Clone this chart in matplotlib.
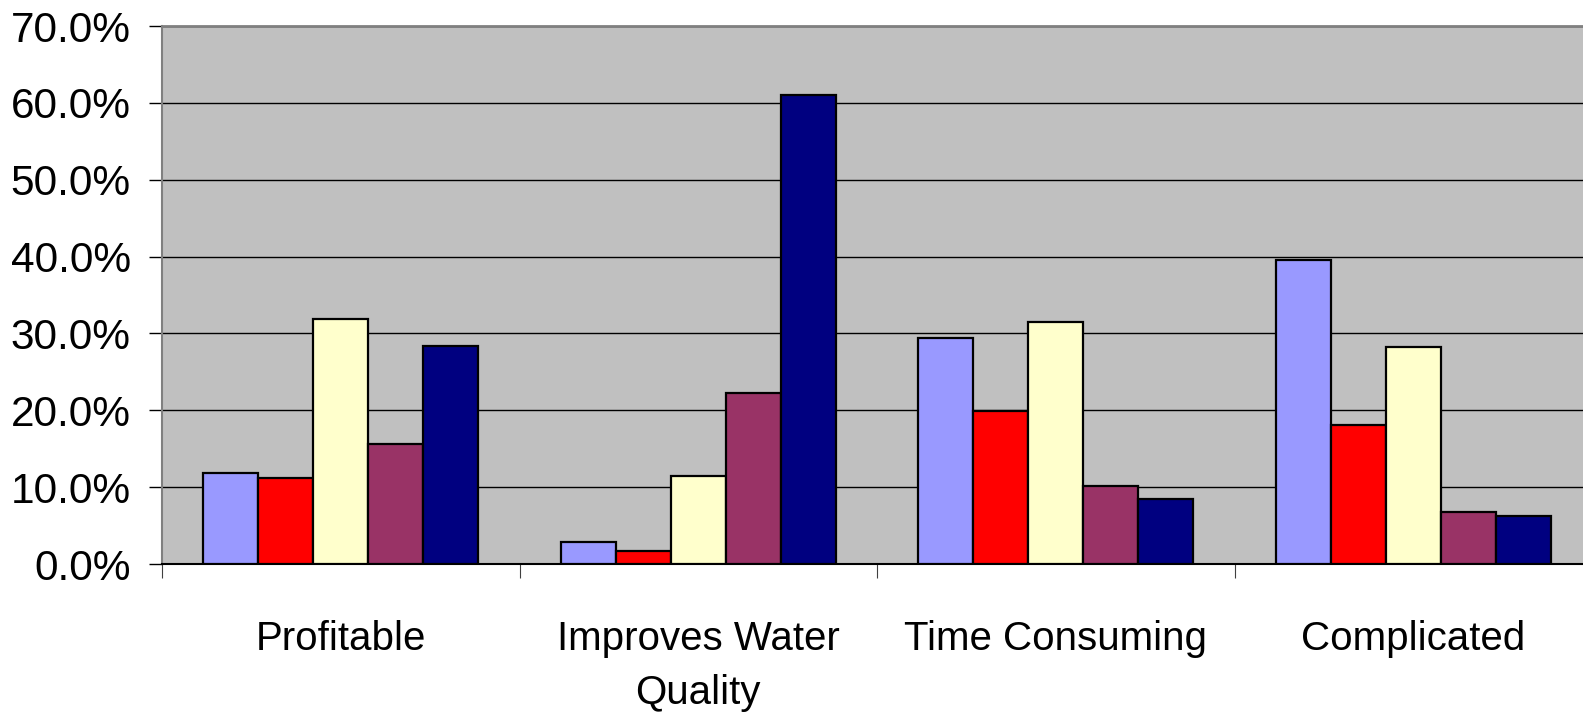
import matplotlib
matplotlib.use("Agg")
import matplotlib.pyplot as plt
from matplotlib import font_manager
from matplotlib.transforms import ScaledTranslation
import numpy as np

categories = ["Profitable", "Improves Water\nQuality", "Time Consuming", "Complicated"]
series_colors = ["#9999FF", "#FF0000", "#FFFFCC", "#993366", "#000080"]
s1 = [11.9, 2.8, 29.4, 39.5]
s2 = [11.2, 1.7, 19.9, 18.1]
s3 = [31.9, 11.5, 31.5, 28.2]
s4 = [15.6, 22.2, 10.1, 6.8]
s5 = [28.3, 61.0, 8.4, 6.2]
series = [s1, s2, s3, s4, s5]
yticks = [0, 10, 20, 30, 40, 50, 60, 70]
ytick_labels = ["0.0%", "10.0%", "20.0%", "30.0%", "40.0%", "50.0%", "60.0%", "70.0%"]

names = {f.name for f in font_manager.fontManager.ttflist}
if "Liberation Sans Narrow" in names:
    cat_font, cat_size, cat_ls = "Liberation Sans Narrow", 33, 1.3
else:
    cat_font, cat_size, cat_ls = "Liberation Sans", 29, 1.55

fig = plt.figure(figsize=(15.83, 7.24), dpi=100)
ax = fig.add_axes([162 / 1583, 160 / 724, 1430 / 1583, 538 / 724])
ax.set_facecolor("#C0C0C0")

n = len(series)
bw = 0.77 / n
x = np.arange(len(categories))
for i, (vals, col) in enumerate(zip(series, series_colors)):
    ax.bar(x - 0.385 + bw * (i + 0.5), vals, width=bw, color=col,
           edgecolor="black", linewidth=1.6, zorder=3)

ax.set_xlim(-0.5, 3.5)
ax.set_ylim(0, 70)
ax.set_yticks(yticks)
ax.set_yticklabels(ytick_labels, fontfamily="Liberation Sans", fontsize=30.5)
shift = ScaledTranslation(0, -4 / 100, fig.dpi_scale_trans)
for lbl in ax.get_yticklabels():
    lbl.set_transform(lbl.get_transform() + shift)
ax.yaxis.grid(True, color="black", linewidth=1.0, zorder=1)
ax.set_axisbelow(True)
ax.tick_params(axis="y", direction="out", length=9.5, width=1, color="black", pad=13)

ax.set_xticks(np.arange(-0.5, 3.6, 1.0))
ax.set_xticklabels([])
ax.tick_params(axis="x", which="major", direction="out", length=10, width=0.8, color="#404040")
ax.set_xticks(x, minor=True)
ax.set_xticklabels(categories, minor=True, fontfamily=[cat_font, "Liberation Sans"],
                   fontsize=cat_size, linespacing=cat_ls)
ax.tick_params(axis="x", which="minor", length=0, pad=40)

ax.spines["top"].set_color("#808080")
ax.spines["top"].set_linewidth(2)
ax.spines["left"].set_color("#808080")
ax.spines["left"].set_linewidth(1.5)
ax.spines["bottom"].set_color("black")
ax.spines["bottom"].set_linewidth(1.5)
ax.spines["right"].set_visible(False)

fig.savefig("out.png", dpi=100)
